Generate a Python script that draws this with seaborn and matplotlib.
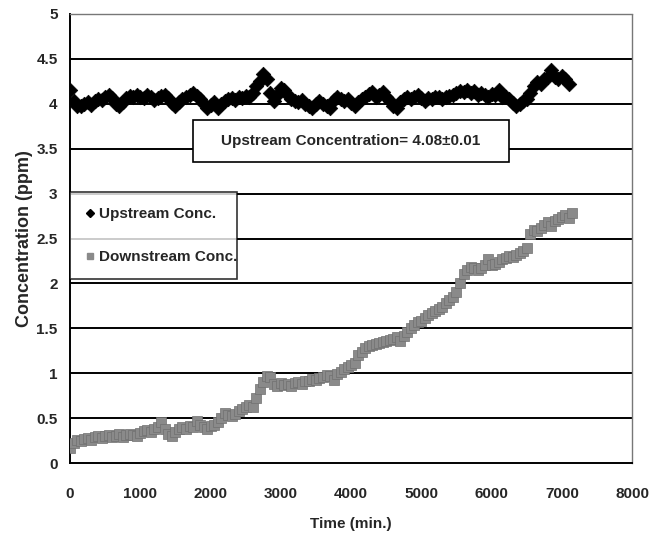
import numpy as np
import pandas as pd
import matplotlib
matplotlib.use("Agg")
import matplotlib.pyplot as plt
import seaborn as sns
from matplotlib.patches import Rectangle
from matplotlib.lines import Line2D

# ---- data ----
up_time = list(range(0, 7101, 50))
up_conc = [4.15, 4.03, 3.98, 3.97, 4.00, 4.02, 3.99, 4.03, 4.05, 4.04,
           4.08, 4.10, 4.06, 4.00, 3.97, 4.02, 4.06, 4.09, 4.07, 4.10,
           4.08, 4.06, 4.10, 4.08, 4.04, 4.06, 4.09, 4.10, 4.06, 4.01,
           3.97, 4.02, 4.05, 4.07, 4.10, 4.12, 4.09, 4.05, 4.00, 3.95,
           3.99, 4.02, 3.95, 4.00, 4.03, 4.05, 4.06, 4.04, 4.07, 4.06,
           4.09, 4.08, 4.12, 4.20, 4.25, 4.33, 4.27, 4.12, 4.03, 4.10,
           4.17, 4.15, 4.10, 4.05, 4.03, 4.02, 4.04, 4.00, 3.97, 3.95,
           4.00, 4.03, 4.00, 3.97, 3.95, 4.04, 4.07, 4.05, 4.03, 4.05,
           4.01, 3.97, 4.02, 4.05, 4.08, 4.11, 4.13, 4.08, 4.10, 4.13,
           4.08, 4.03, 3.98, 3.95, 4.02, 4.05, 4.07, 4.05, 4.08, 4.10,
           4.06, 4.03, 4.06, 4.05, 4.08, 4.08, 4.05, 4.07, 4.09, 4.10,
           4.12, 4.14, 4.13, 4.15, 4.12, 4.14, 4.10, 4.12, 4.10, 4.08,
           4.11, 4.10, 4.15, 4.08, 4.07, 4.05, 4.01, 3.97, 4.00, 4.03,
           4.05, 4.12, 4.20, 4.24, 4.22, 4.28, 4.30, 4.37, 4.30, 4.27,
           4.31, 4.28, 4.22]

down_time = list(range(0, 7151, 50))
down_conc = [0.17, 0.22, 0.26, 0.25, 0.27, 0.28, 0.26, 0.29, 0.30, 0.28,
             0.30, 0.31, 0.29, 0.30, 0.32, 0.29, 0.31, 0.33, 0.31, 0.30,
             0.34, 0.36, 0.37, 0.35, 0.38, 0.40, 0.46, 0.38, 0.33, 0.30,
             0.35, 0.38, 0.40, 0.38, 0.41, 0.40, 0.47, 0.42, 0.40, 0.38,
             0.41, 0.43, 0.46, 0.50, 0.56, 0.54, 0.52, 0.55, 0.58, 0.60,
             0.62, 0.65, 0.62, 0.72, 0.82, 0.90, 0.97, 0.96, 0.88, 0.86,
             0.89, 0.87, 0.88, 0.86, 0.89, 0.90, 0.88, 0.91, 0.92, 0.94,
             0.93, 0.95, 0.96, 0.98, 0.97, 0.93, 0.99, 1.02, 1.05, 1.07,
             1.09, 1.12, 1.20, 1.24, 1.28, 1.30, 1.32, 1.33, 1.34, 1.35,
             1.36, 1.37, 1.38, 1.40, 1.36, 1.42, 1.46, 1.50, 1.54, 1.57,
             1.58, 1.62, 1.65, 1.67, 1.69, 1.72, 1.74, 1.78, 1.82, 1.85,
             1.90, 2.00, 2.10, 2.15, 2.18, 2.17, 2.15, 2.17, 2.20, 2.27,
             2.20, 2.22, 2.24, 2.27, 2.28, 2.30, 2.29, 2.32, 2.34, 2.36,
             2.40, 2.55, 2.60, 2.58, 2.62, 2.65, 2.68, 2.64, 2.70, 2.72,
             2.74, 2.76, 2.73, 2.78]

x_ticks = [0, 1000, 2000, 3000, 4000, 5000, 6000, 7000, 8000]
y_ticks = [0, 0.5, 1, 1.5, 2, 2.5, 3, 3.5, 4, 4.5, 5]
y_tick_labels = ["0", "0.5", "1", "1.5", "2", "2.5", "3", "3.5", "4", "4.5", "5"]
series_names = ["Upstream Conc.", "Downstream Conc."]
box_text = "Upstream Concentration= 4.08\u00b10.01"

up_df = pd.DataFrame({"Time": up_time, "Conc": up_conc})
down_df = pd.DataFrame({"Time": down_time, "Conc": down_conc})

sns.set_theme(style="white")
FONT = ["Liberation Sans", "DejaVu Sans"]
plt.rcParams["font.family"] = FONT

fig = plt.figure(figsize=(6.49, 5.33), dpi=100)
ax = fig.add_axes([0.108, 0.131, 0.866, 0.843])

sns.scatterplot(data=down_df, x="Time", y="Conc", ax=ax, marker="s", s=55,
                color="#8a8a8a", edgecolor="#707070", linewidth=0.5, zorder=3)
sns.scatterplot(data=up_df, x="Time", y="Conc", ax=ax, marker="D", s=55,
                color="black", edgecolor="black", linewidth=0.5, zorder=4)

ax.set_xlim(0, 8000)
ax.set_ylim(0, 5)
ax.set_xticks(x_ticks)
ax.set_xticklabels([str(t) for t in x_ticks])
ax.set_yticks(y_ticks)
ax.set_yticklabels(y_tick_labels)

for yv in y_ticks[1:-1]:
    ax.axhline(yv, color="black", lw=1.4, zorder=1)

for side in ["top", "right"]:
    ax.spines[side].set_color("#777777")
    ax.spines[side].set_linestyle((0, (1, 1)))
    ax.spines[side].set_linewidth(1.0)
for side in ["left", "bottom"]:
    ax.spines[side].set_color("black")
    ax.spines[side].set_linewidth(1.4)

ax.tick_params(axis="both", direction="out", length=5, width=1.2, color="black",
               labelsize=11, pad=4)
ax.tick_params(axis="x", pad=12)
for lab in ax.get_xticklabels() + ax.get_yticklabels():
    lab.set_fontweight("bold")

ax.set_xlabel("Time (min.)", fontsize=11, fontweight="bold", labelpad=12)
ax.set_ylabel("Concentration (ppm)", fontsize=13, fontweight="bold")
ax.yaxis.set_label_coords(-0.066, 0.5)

# annotation box
ax.add_patch(Rectangle((1750, 3.35), 4500, 0.47, facecolor="white",
                       edgecolor="black", lw=1.2, zorder=5))
ax.text(4000, 3.59, box_text, ha="center", va="center", fontsize=11,
        fontweight="bold", zorder=6)

# legend
handles = [Line2D([], [], marker="D", color="black", ls="", markersize=4),
           Line2D([], [], marker="s", color="#8a8a8a", ls="", markersize=5)]
leg = ax.legend(handles, series_names, loc="upper left",
                bbox_to_anchor=(0.0, 0.405, 0.297, 0.199), mode="expand",
                borderaxespad=0, frameon=True, fancybox=False,
                handlelength=0.6, handletextpad=0.3, borderpad=1.0,
                labelspacing=1.9, prop={"weight": "bold", "size": 11,
                                        "family": FONT})
leg.get_frame().set_edgecolor("black")
leg.get_frame().set_linewidth(1.2)
leg.set_zorder(7)

fig.savefig("out.png", dpi=100)
